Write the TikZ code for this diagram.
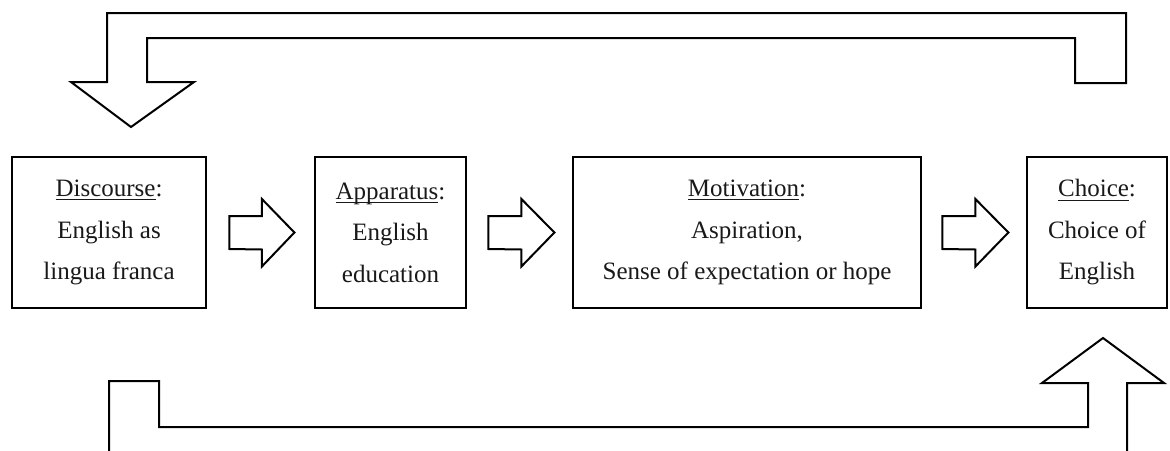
\documentclass[tikz,border=0pt]{standalone}
\usepackage{fontspec}
\setmainfont{Liberation Serif}
\usetikzlibrary{calc}

% underline that sits just under the baseline, crossing descenders
\newcommand\ulword[1]{\setbox0\hbox{#1}\rlap{\rule[-3.8pt]{\wd0}{1.1pt}}\box0}

% block arrow: after node #1, starting #2 past its east side, #3 long
\newcommand\stagearrow[3]{%
  \draw[blockarrow] ($(#1.east)+(#2,-16.5)$) -- ++(#3*0.5,0) -- ++(0,-17)
    -- ($(#1.east)+(#2+#3,0)$)
    -- ($(#1.east)+(#2+#3*0.5,34)$) -- ++(0,-17) -- ($(#1.east)+(#2,16.5)$) -- cycle;}

\tikzset{
  stage/.style={draw=black, line width=2.8pt, minimum height=151pt, inner sep=0pt,
    align=center, text=black!90,
    font={\fontsize{25pt}{41.5pt}\selectfont}},
  blockarrow/.style={draw=black, line width=2pt, line join=miter, fill=white},
}

\begin{document}
\begin{tikzpicture}[x=1pt, y=-1pt]
  \useasboundingbox (0,0) rectangle (1170,450);
  \clip (0,0) rectangle (1170,450);

  % the four stages
  \node[stage, minimum width=194pt] (disc) at (109,232.5)
    {\ulword{Discourse}:\\English as\\lingua franca};
  \node[stage, minimum width=151pt] (app) at (390.5,232.5)
    {\ulword{Apparatus}:\\English\\education};
  \node[stage, minimum width=348pt] (mot) at (747,232.5)
    {\ulword{Motivation}:\\Aspiration,\\Sense of expectation or hope};
  \node[stage, minimum width=140pt] (cho) at (1097,232.5)
    {\ulword{Choice}:\\Choice of\\English};

  % block arrows between consecutive stages
  \stagearrow{disc}{22}{65}
  \stagearrow{app}{21}{66}
  \stagearrow{mot}{20}{66}

  % feedback from Choice back to Discourse (over the top)
  \coordinate (topR) at (1126,83);
  \coordinate (tip) at (131,127);
  \draw[blockarrow] (107,13) -- (1126,13) -- (topR) -- (1075,83) -- (1075,38)
    -- (147,38) -- (147,82) -- (194,82) -- (tip) -- (71,82) -- (107,82) -- cycle;

  % feedback from Discourse forward to Choice (along the bottom)
  \coordinate (btip) at (1103,338);
  \draw[blockarrow] (109,470) -- (109,381) -- (159,381) -- (159,427) -- (1088,427)
    -- (1088,383) -- (1042,383) -- (btip) -- (1164,383) -- (1127,383)
    -- (1127,470) -- cycle;
\end{tikzpicture}
\end{document}
